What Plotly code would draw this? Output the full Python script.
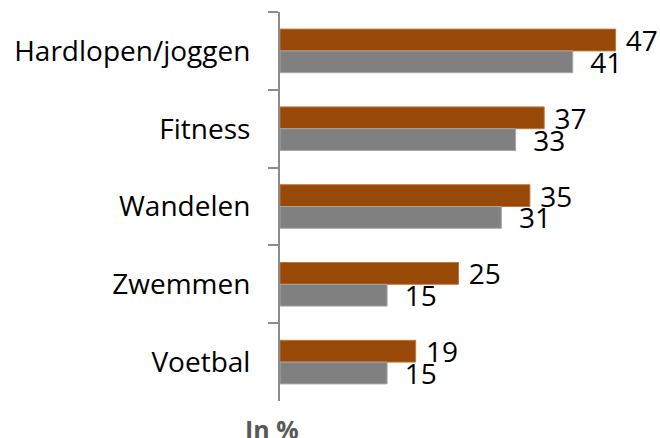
import plotly.graph_objects as go

categories = ["Hardlopen/joggen", "Fitness", "Wandelen", "Zwemmen", "Voetbal"]
series_a = [47, 37, 35, 25, 19]
series_b = [41, 33, 31, 15, 15]

FONT = "'Open Sans', sans-serif"
NB = "\u00a0"

W, H = 660, 438
L, R, T, B = 280, 23, 12, 37

fig = go.Figure()
fig.add_trace(go.Bar(
    y=categories, x=series_a, orientation="h",
    marker=dict(color="#984807", line=dict(color="#c0763a", width=1)),
    text=[NB + str(v) for v in series_a], textposition="outside",
    constraintext="none",
    textfont=dict(size=28, color="#000000", family=FONT),
    cliponaxis=False, name="A",
))
fig.add_trace(go.Bar(
    y=categories, x=series_b, orientation="h",
    marker=dict(color="#808080", line=dict(color="#a6a6a6", width=1)),
    text=[NB + NB + str(v) for v in series_b], textposition="outside",
    constraintext="none",
    textfont=dict(size=28, color="#000000", family=FONT),
    cliponaxis=False, name="B",
))

fig.update_layout(
    width=W, height=H,
    margin=dict(l=L, r=R, t=T, b=B, autoexpand=False),
    barmode="group", bargap=0.44, bargroupgap=0,
    plot_bgcolor="white", paper_bgcolor="white",
    showlegend=False,
    font=dict(family=FONT, size=28, color="#000000"),
    xaxis=dict(range=[0, 50], visible=False, showgrid=False, zeroline=False, automargin=False),
    yaxis=dict(
        autorange="reversed", showline=True, linecolor="#8c8c8c", linewidth=2,
        ticks="outside", tickson="boundaries", ticklen=10, tickcolor="#8c8c8c",
        tickwidth=2, showgrid=False, automargin=False, ticklabelstandoff=22,
        tickfont=dict(size=28, color="#000000", family=FONT),
    ),
    annotations=[dict(
        text="<b>In %</b>",
        x=(272 - L) / (W - L - R), y=-(429 - (H - B)) / (H - T - B),
        xref="paper", yref="paper", xanchor="center", yanchor="middle",
        showarrow=False, font=dict(size=25, color="#595959", family=FONT),
    )],
)

fig.write_html(
    "out.html",
    config={"displayModeBar": False},
    post_script="document.body.style.margin='0';document.body.style.overflow='hidden';",
)
